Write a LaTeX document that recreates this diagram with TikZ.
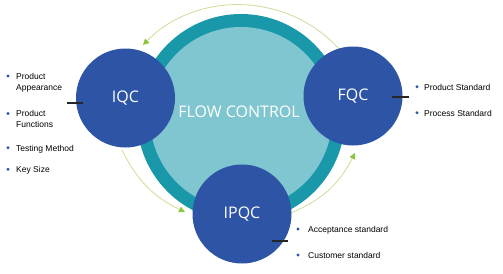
\documentclass[tikz,border=0pt]{standalone}
\usepackage{fontspec}
\setmainfont{Liberation Sans}
\newfontfamily\circfont{Open Sans}
\usetikzlibrary{arrows.meta}

\definecolor{qcblue}{RGB}{46,84,166}
\definecolor{ringteal}{RGB}{25,152,170}
\definecolor{ringfill}{RGB}{128,198,208}
\definecolor{arcgreen}{RGB}{204,220,150}
\definecolor{tipgreen}{RGB}{140,196,60}

\begin{document}
\begin{tikzpicture}[
  x=1pt, y=-1pt,
  qc/.style={circle, fill=qcblue, minimum size=99pt, inner sep=0pt,
    text=white, font=\circfont\fontsize{16}{18}\selectfont},
  item/.style={anchor=base west, align=left, inner sep=0pt,
    font=\fontsize{8.5}{11.2}\selectfont},
  flow/.style={draw=arcgreen, line width=0.8pt,
    -{Triangle[length=6pt,width=6pt,color=tipgreen]}},
  tick/.style={draw=black!85, line width=1.2pt},
  dot/.style={fill=qcblue}
]
  \useasboundingbox (0,0) rectangle (503,273);

  % Flow control ring
  \fill[ringteal] (241,118) circle (104pt);
  \fill[ringfill] (241,118) circle (91pt);
  \node[text=white, font=\circfont\fontsize{16}{18}\selectfont] (flow) at (239,112) {FLOW CONTROL};

  % Arc ends
  \coordinate (a1s) at (340,50);
  \coordinate (a1e) at (143,45);
  \coordinate (a2s) at (122,150);
  \coordinate (a2e) at (185,212);
  \coordinate (a3s) at (291,213);
  \coordinate (a3e) at (355,153);

  % Flow arrows
  \draw[flow] (a1s) to[bend right=47] (a1e);
  \draw[flow] (a2s) to[bend right=19] (a2e);
  \draw[flow] (a3s) to[bend right=20] (a3e);

  % Control stages
  \node[qc] (iqc)  at (125.5,98) {IQC};
  \node[qc] (fqc)  at (353,96)   {FQC};
  \node[qc] (ipqc) at (242,214)  {IPQC};

  % Ticks
  \draw[tick] (67,103) -- (83,103);
  \draw[tick] (392,97) -- (409,97);
  \draw[tick] (272,241) -- (288,241);

  % IQC items
  \fill[dot] (8,76) circle (1.6pt);
  \node[item] (iqc1) at (16,90.5) {Product\\Appearance};
  \fill[dot] (8,113.5) circle (1.6pt);
  \node[item] (iqc2) at (16,127.9) {Product\\Functions};
  \fill[dot] (8,147.7) circle (1.6pt);
  \node[item] (iqc3) at (16,151) {Testing Method};
  \fill[dot] (8,169.2) circle (1.6pt);
  \node[item] (iqc4) at (16,172.7) {Key Size};

  % FQC items
  \fill[dot] (417,86.7) circle (1.6pt);
  \node[item] (fqc1) at (424,90) {Product Standard};
  \fill[dot] (417,112.7) circle (1.6pt);
  \node[item] (fqc2) at (424,116) {Process Standard};

  % IPQC items
  \fill[dot] (298,229) circle (1.6pt);
  \node[item] (ipqc1) at (308,232) {Acceptance standard};
  \fill[dot] (298,255) circle (1.6pt);
  \node[item] (ipqc2) at (308,258.3) {Customer standard};

\end{tikzpicture}
\end{document}
